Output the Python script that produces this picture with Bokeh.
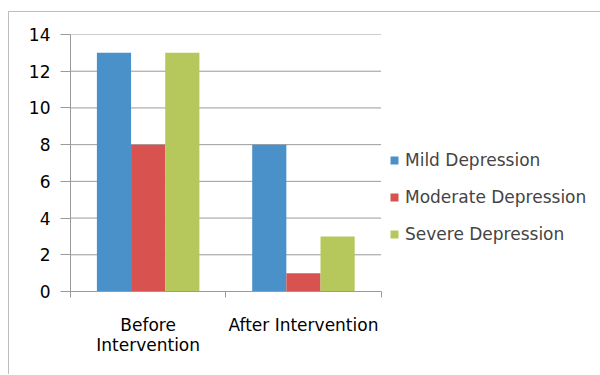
from bokeh.plotting import figure
from bokeh.models import Range1d, FixedTicker, Legend, LegendItem
from bokeh.transform import dodge
from bokeh.embed import file_html
from bokeh.resources import INLINE

categories = ["Before\nIntervention", "After Intervention"]
mild = [13, 8]
moderate = [8, 1]
severe = [13, 3]
series_names = ["Mild Depression", "Moderate Depression", "Severe Depression"]
colors = ["#4A91CA", "#D8534F", "#B6C85B"]
y_ticks = [0, 2, 4, 6, 8, 10, 12, 14]

FONT = "DejaVu Sans"
FS = "17px"
GRID = "#9a9a9a"

n = len(categories)
centers = [i + 0.5 for i in range(n)]
data = dict(x=centers, mild=mild, moderate=moderate, severe=severe)

# plot frame spans to the right edge so the legend can sit inside it;
# each category band is 155 px wide, the frame is 530 px wide
x_end = n * 530 / 310

p = figure(width=592, height=363, output_backend="svg", toolbar_location=None,
           x_range=Range1d(0, x_end), y_range=Range1d(0, 14),
           min_border_left=61, min_border_right=0, min_border_top=22,
           min_border_bottom=84, margin=(11, 0, 0, 8))
p.styles = {"border-top": "1px solid #bdbdbd", "border-left": "1px solid #bdbdbd"}
p.outline_line_color = None
p.background_fill_color = "white"
p.border_fill_color = "white"

# horizontal gridlines limited to the category area
p.segment(x0=[0] * len(y_ticks), x1=[n] * len(y_ticks), y0=y_ticks, y1=y_ticks,
          line_color=GRID, line_width=1)

bw = 0.22
r1 = p.vbar(x=dodge("x", -bw, range=p.x_range), top="mild", width=bw, source=data,
            fill_color=colors[0], line_color=None)
r2 = p.vbar(x=dodge("x", 0, range=p.x_range), top="moderate", width=bw, source=data,
            fill_color=colors[1], line_color=None)
r3 = p.vbar(x=dodge("x", bw, range=p.x_range), top="severe", width=bw, source=data,
            fill_color=colors[2], line_color=None)

# axes
p.xaxis.bounds = (0, n)
p.xaxis.ticker = FixedTicker(ticks=centers, minor_ticks=list(range(n + 1)))
p.xaxis.major_label_overrides = {c: lab for c, lab in zip(centers, categories)}
p.xaxis.major_tick_line_color = None
p.xaxis.minor_tick_in = 0
p.xaxis.minor_tick_out = 6
p.xaxis.minor_tick_line_color = GRID
p.xaxis.axis_line_color = GRID
p.xaxis.major_label_text_font = FONT
p.xaxis.major_label_text_font_size = FS
p.xaxis.major_label_text_color = "black"
p.xaxis.major_label_text_line_height = 1.0
p.xaxis.major_label_standoff = 17

p.yaxis.ticker = FixedTicker(ticks=y_ticks)
p.yaxis.minor_tick_line_color = None
p.yaxis.major_tick_in = 0
p.yaxis.major_tick_out = 10
p.yaxis.major_tick_line_color = GRID
p.yaxis.axis_line_color = GRID
p.yaxis.major_label_text_font = FONT
p.yaxis.major_label_text_font_size = FS
p.yaxis.major_label_text_color = "black"
p.yaxis.major_label_standoff = 10

p.xgrid.grid_line_color = None
p.ygrid.grid_line_color = None

legend = Legend(items=[LegendItem(label=series_names[0], renderers=[r1]),
                       LegendItem(label=series_names[1], renderers=[r2]),
                       LegendItem(label=series_names[2], renderers=[r3])],
                location=(319, 47), border_line_color=None, background_fill_color=None,
                glyph_width=10, glyph_height=10, label_height=20, spacing=17,
                padding=0, margin=0, label_standoff=6,
                label_text_font=FONT, label_text_font_size=FS)
p.add_layout(legend, "center")

open("out.html", "w").write(file_html(p, INLINE))
